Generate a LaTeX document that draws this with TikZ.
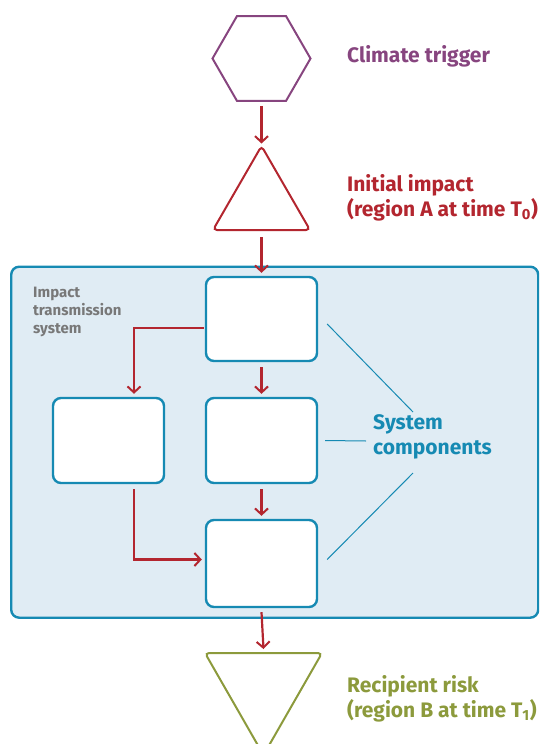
\documentclass[tikz,border=0pt]{standalone}
\usepackage{fontspec}
\setmainfont{Fira Sans}
\usetikzlibrary{arrows.meta,shapes.geometric}
\definecolor{cpurple}{HTML}{87457F}
\definecolor{cred}{HTML}{B3262F}
\definecolor{cblue}{HTML}{168AB3}
\definecolor{cfill}{HTML}{E0ECF4}
\definecolor{cgreen}{HTML}{8C9A3C}
\definecolor{cgray}{HTML}{787878}
\tikzset{
  arr/.style={draw=cred, line width=2.2pt, -{Straight Barb[length=6pt,width=13pt,line width=2pt]}},
  comp/.style={draw=cblue, line width=2.4pt, fill=white, rounded corners=8pt, minimum width=111pt, minimum height=85pt, inner sep=0pt},
  thin/.style={draw=cblue, line width=1pt},
  lbl/.style={font=\bfseries\fontsize{21}{24.5}\selectfont, align=left, inner sep=0pt},
}
\begin{document}
\begin{tikzpicture}[x=1pt,y=-1pt]
\clip (0,0) rectangle (539,744);
% hexagon (climate trigger)
\node[regular polygon, regular polygon sides=6, minimum size=98pt, inner sep=0pt, draw=cpurple, line width=2pt] (trig) at (261.5,58.5) {};
\node[lbl, text=cpurple, anchor=base west] (trigl) at (347,62) {Climate trigger};
% initial impact triangle
\coordinate (impTop) at (261.5,146);
\coordinate (impL) at (213,230);
\coordinate (impR) at (310,230);
\coordinate (impB) at (261.5,230);
\draw[cred, line width=2pt, rounded corners=4pt] (impTop) -- (impR) -- (impL) -- cycle;
\node[lbl, text=cred, anchor=west] (impl) at (347,198) {Initial impact\\(region A at time T\textsubscript{0})};
% system box
\node[draw=cblue, line width=2.4pt, fill=cfill, rounded corners=8pt, minimum width=527pt, minimum height=351pt, anchor=north west, inner sep=0pt] (sys) at (10,265.5) {};
\node[font=\bfseries\fontsize{15}{18}\selectfont, text=cgray, align=left, anchor=north west, inner sep=0pt] (sysl) at (33,287) {Impact\\transmission\\system};
% components
\node[comp, minimum height=84pt] (b1) at (261.5,319) {};
\node[comp] (b2) at (108.5,440.5) {};
\node[comp] (b3) at (261.5,440.5) {};
\node[comp, minimum height=87pt] (b4) at (261.5,563.5) {};
% recipient triangle
\coordinate (recL) at (205,653);
\coordinate (recR) at (322,653);
\coordinate (recB) at (263.5,755);
\coordinate (recT) at (263.5,653);
\draw[cgreen, line width=2pt, rounded corners=4pt] (recB) -- (recL) -- (recR) -- cycle;
\node[lbl, text=cgreen, anchor=west] (recl) at (347,699) {Recipient risk\\(region B at time T\textsubscript{1})};
% system components label and pointers
\node[lbl, text=cblue, anchor=west] (compl) at (373,437) {System\\components};
\coordinate (p1) at (413,412);
\coordinate (p2) at (366,441);
\coordinate (p3) at (413,473);
\draw[thin] ([xshift=9pt,yshift=-5pt]b1.east) -- (p1);
\draw[thin] ([xshift=7pt]b3.east) -- (p2);
\draw[thin] ([xshift=9pt,yshift=4pt]b4.east) -- (p3);
% arrows
\draw[arr] ([yshift=-4pt]trig.south) -- ([yshift=2.5pt]impTop);
\draw[arr] ([yshift=-7pt]impB) -- ([yshift=3pt]b1.north);
\draw[arr] ([yshift=-5pt]b1.south) -- ([yshift=3pt]b3.north);
\draw[arr] ([xshift=-1pt,yshift=-9pt]b1.west) -| ([xshift=25.5pt,yshift=3pt]b2.north);
\draw[arr] ([yshift=-5pt]b3.south) -- ([yshift=3pt]b4.north);
\draw[arr] ([xshift=25.5pt,yshift=-5pt]b2.south) |- ([xshift=-3pt,yshift=4pt]b4.west);
\draw[arr] ([yshift=-4pt]b4.south) -- ([yshift=4pt]recT);
\end{tikzpicture}
\end{document}
